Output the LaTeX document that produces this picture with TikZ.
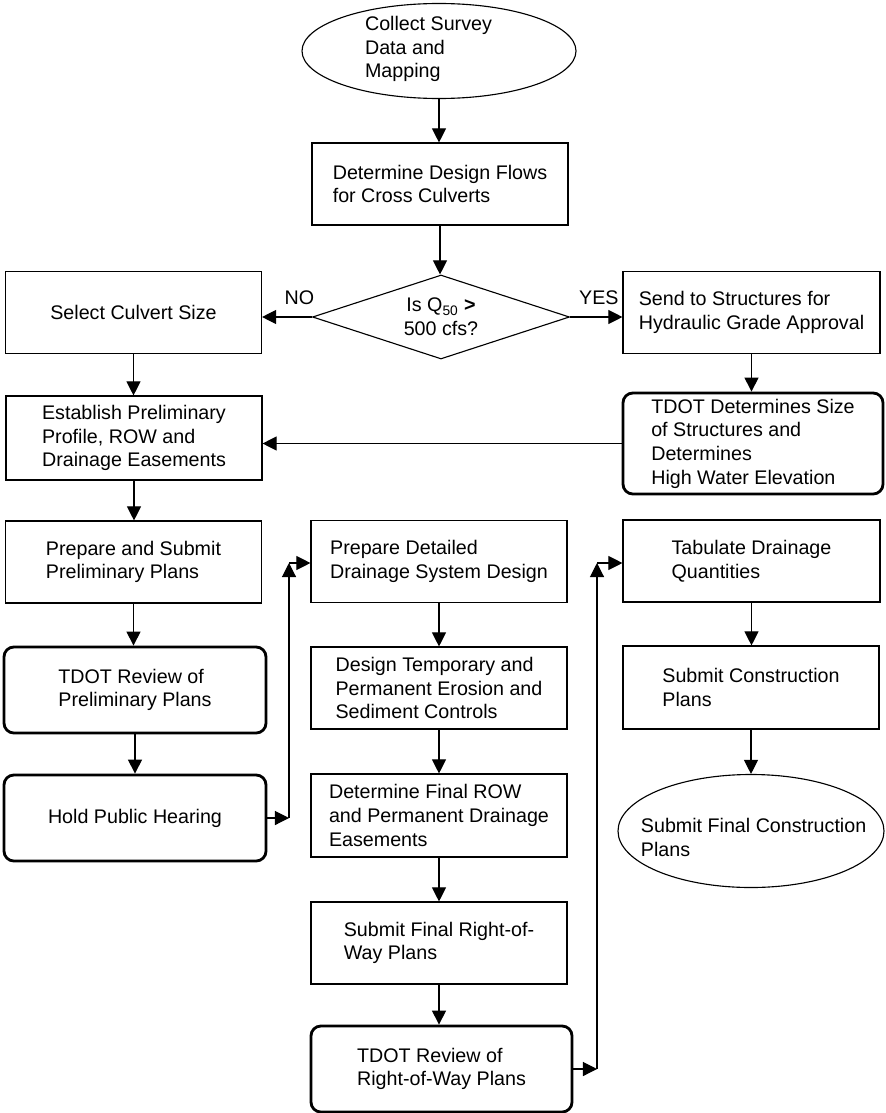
\documentclass[tikz,border=0pt]{standalone}
\usepackage{fontspec}
\setmainfont{Liberation Sans}
\usepackage{tikz}
\usetikzlibrary{shapes.geometric,arrows.meta,positioning,calc}
\definecolor{flowInk}{gray}{0.00}
\newcommand{\flowFont}{\fontsize{14pt}{16.8pt}\selectfont}

\begin{document}
\begin{tikzpicture}[
      box/.style={draw=flowInk, line width=0.8pt, align=left,
                  inner sep=0pt, font=\flowFont},
      task/.style={box, minimum width=6.4cm, minimum height=2.05cm},
      review/.style={task, line width=2pt, rounded corners=7pt,
                     minimum width=6.55cm, minimum height=2.15cm},
      terminal/.style={draw=flowInk, line width=0.8pt, ellipse},
      decision/.style={box, diamond, aspect=3, align=center},
      caption/.style={align=left, inner sep=0pt, font=\flowFont},
      flow/.style={-{Triangle[length=10pt, width=10pt]}, line width=0.8pt, draw=flowInk}]
    \useasboundingbox (0,0) rectangle (22.15,-27.825);

    % top of the chart
    \node[terminal, minimum width=6.85cm, minimum height=2.375cm] (survey) at (10.975,-1.275) {};
    \node[caption] (surveytext) at (10.7125,-1.225) {Collect Survey\\Data and\\Mapping};
    \node[task] (flows) at (11.0,-4.6) {Determine Design Flows\\for Cross Culverts};
    \node[decision, minimum width=6.425cm, minimum height=2.1cm] (decide) at (11.025,-7.925)
      {Is Q\textsubscript{50} \textbf{>}\\500 cfs?};
    \node[task] (select) at (3.3375,-7.8125) {Select Culvert Size};
    \node[task, minimum width=6.425cm] (send) at (18.7875,-7.8125)
      {Send to Structures for\\Hydraulic Grade Approval};
    \node[review, minimum width=6.5cm, minimum height=2.525cm] (tdotsize) at (18.825,-11.0875)
      {TDOT Determines Size\\of Structures and\\Determines\\High Water Elevation};
    \node[task, minimum height=2.1cm] (establish) at (3.35,-10.95)
      {Establish Preliminary\\Profile, ROW and\\Drainage Easements};

    % left column
    \node[task] (prepare) at (3.3375,-14.05) {Prepare and Submit\\Preliminary Plans};
    \node[review] (review1) at (3.375,-17.25) {TDOT Review of\\Preliminary Plans};
    \node[review] (hearing) at (3.375,-20.45) {Hold Public Hearing};

    % middle column
    \node[task] (detailed) at (10.975,-14.0375) {Prepare Detailed\\Drainage System Design};
    \node[task] (erosion) at (10.975,-17.2)
      {Design Temporary and\\Permanent Erosion and\\Sediment Controls};
    \node[task, minimum height=2.075cm] (finalrow) at (10.975,-20.3875)
      {Determine Final ROW\\and Permanent Drainage\\Easements};
    \node[task] (rowplans) at (10.975,-23.575) {Submit Final Right-of-\\Way Plans};
    \node[review, minimum width=6.525cm] (review2) at (11.0375,-26.725)
      {TDOT Review of\\Right-of-Way Plans};

    % right column
    \node[task, minimum width=6.425cm] (tabulate) at (18.7875,-14.025) {Tabulate Drainage\\Quantities};
    \node[task, minimum height=2.075cm] (construct) at (18.775,-17.1875) {Submit Construction\\Plans};
    \node[terminal, minimum width=6.65cm, minimum height=2.825cm] (final) at (18.775,-20.775) {};
    \node[caption] (finaltext) at (18.84,-20.94) {Submit Final Construction\\Plans};

    \coordinate (busA) at (7.225,-14.075);
    \coordinate (busB) at (14.925,-14.075);

    % connectors
    \draw[flow] (survey.south) -- (survey.south |- flows.north);
    \draw[flow] (flows.south) -- (flows.south |- decide.north);
    \draw[flow] (decide.west) -- node[pos=0.25, above=5pt, font=\flowFont] (nolabel) {NO}
      (decide.west -| select.east);
    \draw[flow] (decide.east) -- node[pos=0.55, above=5pt, font=\flowFont] (yeslabel) {YES}
      (decide.east -| send.west);
    \draw[flow] (send.south) -- (send.south |- tdotsize.north);
    \draw[flow] (tdotsize.west) -- (tdotsize.west -| establish.east);
    \draw[flow] (select.south) -- (select.south |- establish.north);
    \draw[flow] (establish.south) -- (establish.south |- prepare.north);
    \draw[flow] (prepare.south) -- (prepare.south |- review1.north);
    \draw[flow] (review1.south) -- (review1.south |- hearing.north);
    \draw[flow] (hearing.east) -- (hearing.east -| busA);
    \draw[flow] (hearing.east -| busA) -- (busA);
    \draw[flow] (busA) -- (busA -| detailed.west);
    \draw[flow] (detailed.south) -- (detailed.south |- erosion.north);
    \draw[flow] (erosion.south) -- (erosion.south |- finalrow.north);
    \draw[flow] (finalrow.south) -- (finalrow.south |- rowplans.north);
    \draw[flow] (rowplans.south) -- (rowplans.south |- review2.north);
    \draw[flow] (review2.east) -- (review2.east -| busB);
    \draw[flow] (review2.east -| busB) -- (busB);
    \draw[flow] (busB) -- (busB -| tabulate.west);
    \draw[flow] (tabulate.south) -- (tabulate.south |- construct.north);
    \draw[flow] (construct.south) -- (construct.south |- final.north);
  \end{tikzpicture}
\end{document}
